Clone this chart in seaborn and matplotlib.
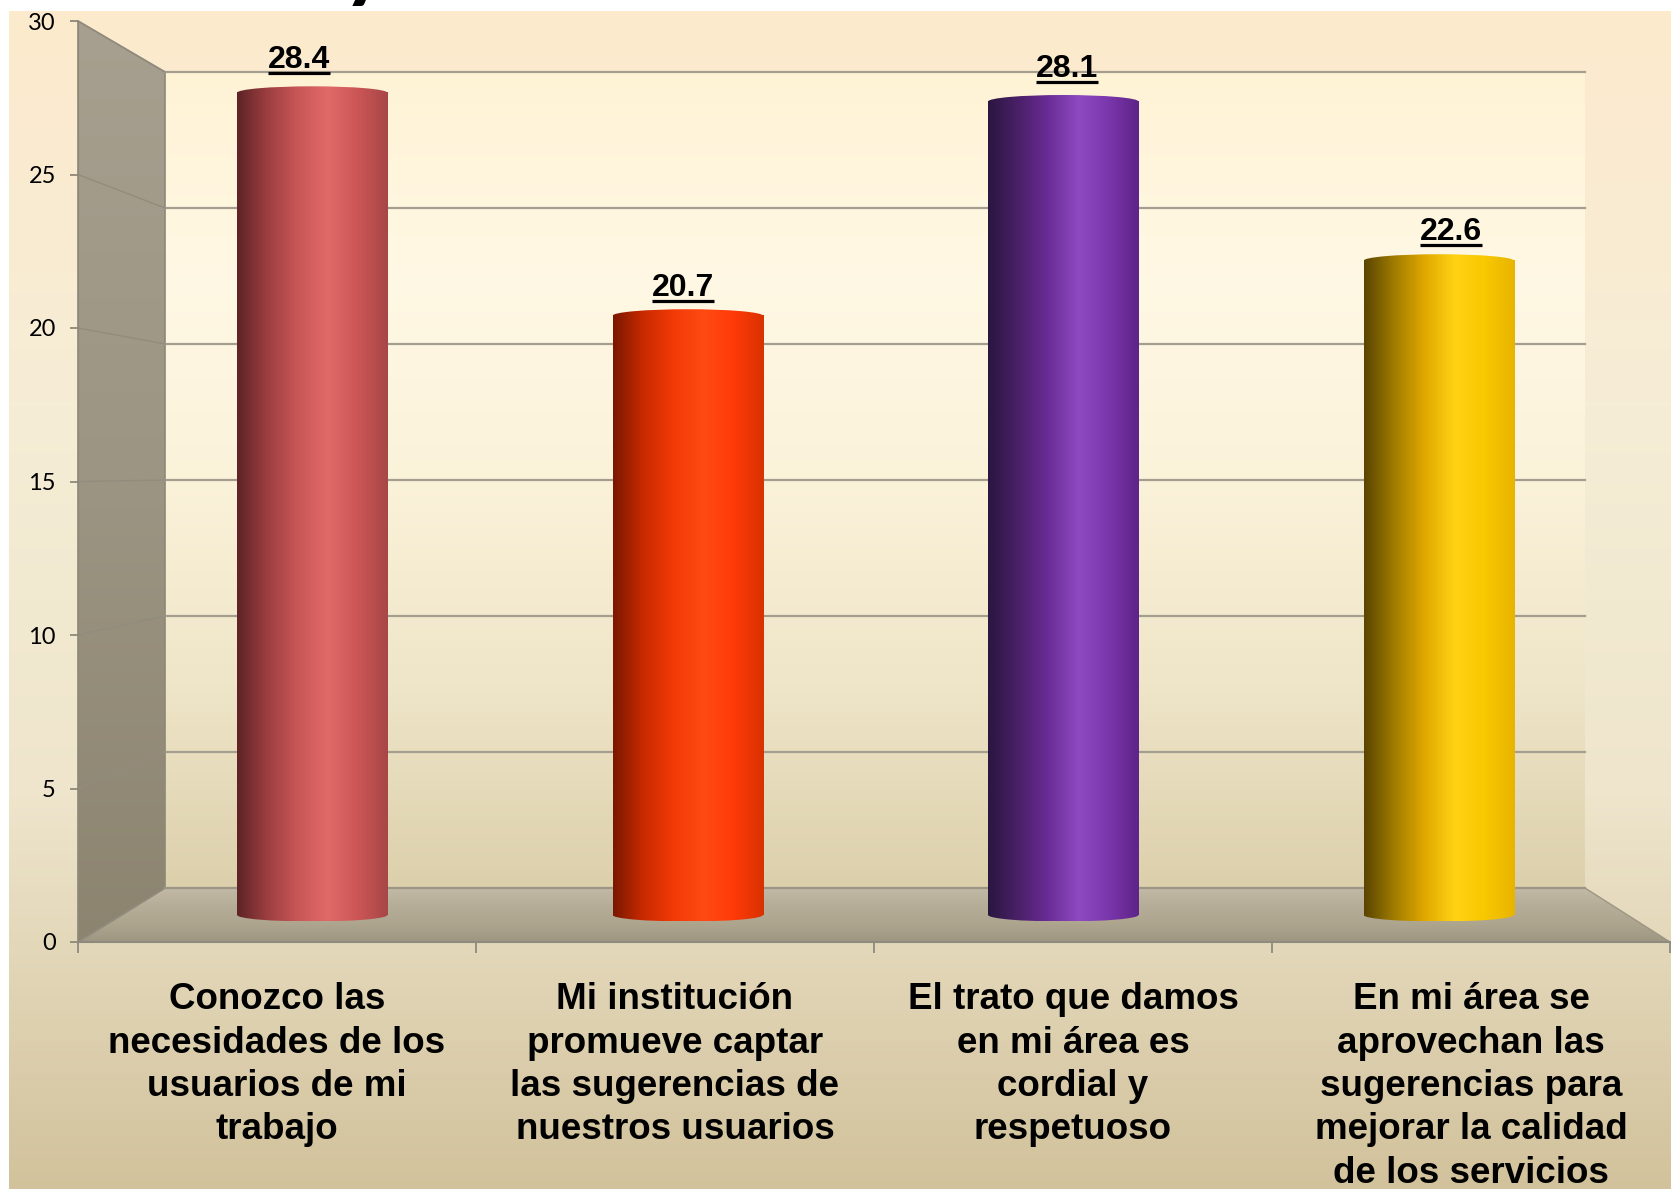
import numpy as np
import pandas as pd
import seaborn as sns
import matplotlib.pyplot as plt
from matplotlib.colors import LinearSegmentedColormap
from matplotlib.patches import Polygon, Ellipse
from matplotlib.lines import Line2D

# datos
categorias = ['Conozco las\nnecesidades de los\nusuarios de mi\ntrabajo',
              'Mi institución\npromueve captar\nlas sugerencias de\nnuestros usuarios',
              'El trato que damos\nen mi área es\ncordial y\nrespetuoso',
              'En mi área se\naprovechan las\nsugerencias para\nmejorar la calidad\nde los servicios']
valores = [28.4, 20.7, 28.1, 22.6]
ticks_y = [0, 5, 10, 15, 20, 25, 30]

# degradado de cada cilindro (izquierda -> derecha)
colores_barras = [
    ['#5E2326', '#9C3E40', '#C85656', '#E06A68', '#CC5656', '#A84646'],
    ['#7A1800', '#C82A00', '#F23A06', '#FF4A14', '#FF3A08', '#D83200'],
    ['#2A1640', '#4A2068', '#6A2C96', '#8E4AC0', '#7A36AC', '#5E2488'],
    ['#5A4400', '#A07C00', '#E0A800', '#FFD214', '#F8C800', '#E8B400'],
]

W, H = 1671, 1192
fig = plt.figure(figsize=(W / 100, H / 100), dpi=100)
fig.patch.set_facecolor('white')


def pos(x0, x1, y_top, y_bot):
    return [x0 / W, 1 - y_bot / H, (x1 - x0) / W, (y_bot - y_top) / H]


def cmap(cols):
    return LinearSegmentedColormap.from_list('g', cols)


grad_v = np.linspace(0, 1, 256).reshape(-1, 1)
grad_h = np.linspace(0, 1, 256).reshape(1, -1)

# planos del grafico 3D (pixeles)
fx0, fx1, ftop, fbot = 78, 1670, 21, 942      # plano frontal
bx0, bx1, btop, bbot = 165, 1585, 72, 888     # pared del fondo
mx0, mx1 = (fx0 + bx0) / 2 + 3, (fx1 + bx1) / 2 - 1
mtop, mbot = (ftop + btop) / 2, (fbot + bbot) / 2
ymax = ticks_y[-1]


def yf(v):
    return fbot - v / ymax * (fbot - ftop)


def yb(v):
    return bbot - v / ymax * (bbot - btop)


# fondo, paredes y piso
ax_bg = fig.add_axes([0, 0, 1, 1])
ax_bg.axis('off')
ax_bg.imshow(grad_v, cmap=cmap(['#FDEACD', '#F6EDD6', '#EEE5CC', '#D2C29C']),
             extent=(9, W, H - 3, 11), aspect='auto', zorder=0)
ax_bg.imshow(grad_v, cmap=cmap(['#FFF3D6', '#FFF8E4', '#FBF2DA', '#EFE5C8', '#DCD0AC']),
             extent=(bx0, bx1, bbot, btop), aspect='auto', zorder=1)

pared = Polygon([(fx0, fbot), (fx0, ftop), (bx0, btop), (bx0, bbot)], closed=True,
                facecolor='none', edgecolor='#8E8878', lw=1.2, zorder=2)
ax_bg.add_patch(pared)
ax_bg.imshow(grad_v, cmap=cmap(['#A79F8F', '#9C9583', '#8C846F']),
             extent=(fx0, bx0, fbot, ftop), aspect='auto', zorder=1.5, clip_path=pared)

piso = Polygon([(fx0, fbot), (bx0, bbot), (bx1, bbot), (fx1, fbot)], closed=True,
               facecolor='none', edgecolor='none', zorder=2)
ax_bg.add_patch(piso)
ax_bg.imshow(grad_v, cmap=cmap(['#C2BAA6', '#B6AD98', '#AEA58F', '#9F9682']),
             extent=(fx0, fx1, fbot, bbot), aspect='auto', zorder=1.5, clip_path=piso)

for t in ticks_y:
    if t > 0:
        ax_bg.plot([bx0, bx1], [yb(t), yb(t)], color='#A39E90', lw=1.6, zorder=3)
    ax_bg.plot([fx0, bx0], [yf(t), yb(t)], color='#928C7E', lw=1.0, zorder=3)
ax_bg.plot([bx0, bx1], [bbot, bbot], color='#9C9684', lw=1.6, zorder=3)
ax_bg.plot([bx1, fx1], [bbot, fbot], color='#9C9684', lw=1.0, zorder=3)
ax_bg.set_xlim(0, W)
ax_bg.set_ylim(H, 0)

# eje frontal: ticks y etiquetas
ax_front = fig.add_axes(pos(fx0, fx1, ftop, fbot))
ax_front.patch.set_alpha(0)
ax_front.set_xlim(-0.5, len(valores) - 0.5)
ax_front.set_ylim(0, ymax)
for s in ['top', 'right']:
    ax_front.spines[s].set_visible(False)
ax_front.spines['left'].set_color('#8E8878')
ax_front.spines['bottom'].set_color('#8E8A80')
ax_front.spines['bottom'].set_linewidth(1.5)
ax_front.set_yticks(ticks_y)
ax_front.set_yticklabels([str(t) for t in ticks_y], family='Lato', fontsize=17)
ax_front.tick_params(axis='y', length=6, width=1.3, color='#8E8878', pad=10)
ax_front.set_xticks(np.arange(len(valores) + 1) - 0.5)
ax_front.set_xticklabels([])
ax_front.tick_params(axis='x', which='major', length=8, width=1.3, color='#8E8A80')
ax_front.set_xticks(np.arange(len(valores)), labels=categorias, minor=True)
ax_front.tick_params(axis='x', which='minor', length=0, pad=29)
for lab in ax_front.get_xticklabels(minor=True):
    lab.set_family('Liberation Sans')
    lab.set_fontweight('bold')
    lab.set_fontsize(26.5)
    lab.set_linespacing(1.31)
ax_front.grid(False)

# cilindros en el plano medio (el eje baja un poco bajo 0 para ver la base eliptica)
ylow = -1.5
mbot_ext = mbot + (-ylow) / ymax * (mbot - mtop)
ax_mid = fig.add_axes(pos(mx0, mx1, mtop, mbot_ext))
ax_mid.axis('off')
df = pd.DataFrame({'categoria': categorias, 'valor': valores})
sns.barplot(data=df, x='categoria', y='valor', hue='categoria', legend=False,
            palette=[c[3] for c in colores_barras], width=0.4, ax=ax_mid,
            edgecolor='none', zorder=2)

ry = 6.5 / (mbot - mtop) * ymax
for i, p in enumerate(ax_mid.patches[:len(valores)]):
    x, w, v = p.get_x(), p.get_width(), p.get_height()
    cm = cmap(colores_barras[i])
    ax_mid.imshow(grad_h, cmap=cm, extent=(x, x + w, 0, v), aspect='auto',
                  clip_path=p, zorder=3)
    for yc in [0, v]:
        e = Ellipse((x + w / 2, yc), w, 2 * ry, facecolor='none', edgecolor='none',
                    transform=ax_mid.transData)
        ax_mid.add_patch(e)
        ax_mid.imshow(grad_h, cmap=cm, extent=(x, x + w, yc - ry, yc + ry),
                      aspect='auto', clip_path=e, zorder=3)
ax_mid.set_xlim(-0.5, len(valores) - 0.5)
ax_mid.set_ylim(ylow, ymax)

# etiquetas de valor: plano entre los cilindros y el frente
f = 0.38
lx0, lx1 = mx0 + f * (fx0 - mx0), mx1 + f * (fx1 - mx1)
ltop, lbot = mtop + f * (ftop - mtop), mbot + f * (fbot - mbot)
ax_lab = fig.add_axes(pos(lx0, lx1, ltop, lbot))
ax_lab.axis('off')
ax_lab.set_xlim(-0.5, len(valores) - 0.5)
ax_lab.set_ylim(0, ymax)
off = 16 * 72 / 100
etiquetas = []
for i, v in enumerate(valores):
    t = ax_lab.annotate(f'{v:.1f}', (i, v), xytext=(0, off), textcoords='offset points',
                        ha='center', va='baseline', fontsize=23, fontweight='bold',
                        family='Liberation Sans', color='black', zorder=5)
    etiquetas.append(t)

# subrayado de las etiquetas de valor
fig.canvas.draw()
r = fig.canvas.get_renderer()
for i, (t, v) in enumerate(zip(etiquetas, valores)):
    bb = t.get_window_extent(r)
    base = ax_lab.transData.transform((i, v))[1] + off * 100 / 72
    yl = (base - 5) / H
    fig.add_artist(Line2D([bb.x0 / W, bb.x1 / W], [yl, yl], transform=fig.transFigure,
                          color='black', lw=2.3, solid_capstyle='butt'))

# resto del titulo cortado arriba
fig.text(342 / W, 1 + 9.5 / H, 'y', fontsize=65, fontweight='bold', family='Lato',
         ha='left', va='baseline', color='black')

fig.savefig('out.png', dpi=100)
